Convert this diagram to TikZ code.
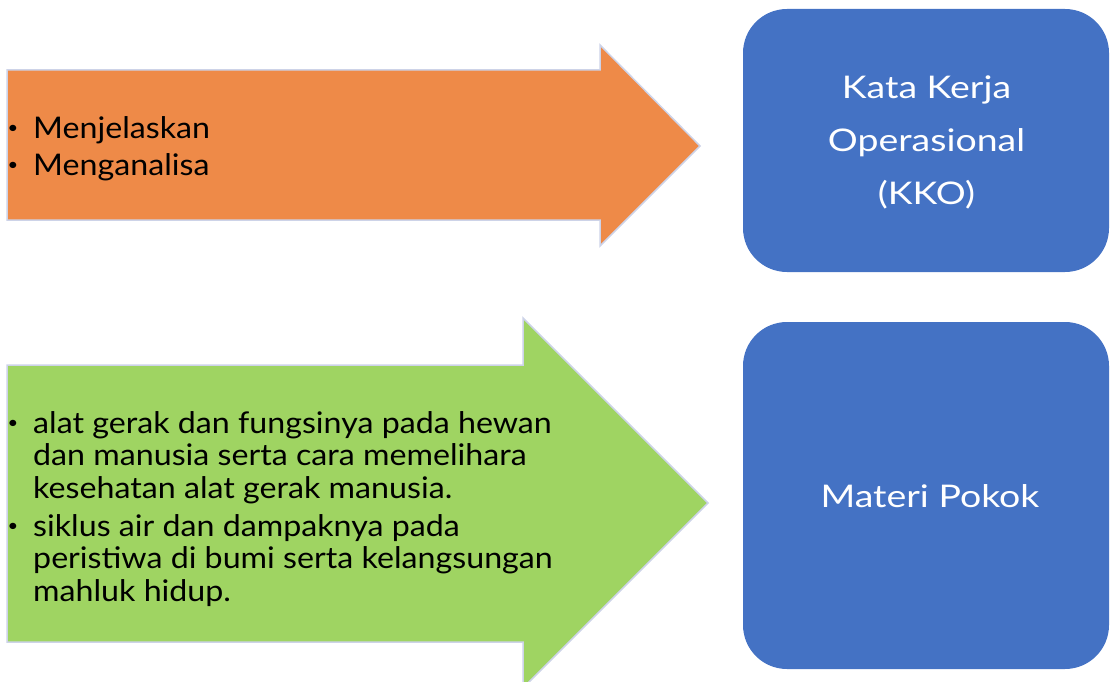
\documentclass[tikz,border=0pt]{standalone}
\usepackage{fontspec}
\setmainfont{Lato}
\newfontfamily\listfont{Lato}[FakeStretch=1.08]
\newfontfamily\boxfont{Lato}[FakeStretch=1.2]
\definecolor{orangefill}{HTML}{EE8A48}
\definecolor{greenfill}{HTML}{9FD462}
\definecolor{bluefill}{HTML}{4472C4}
\definecolor{edgeline}{HTML}{CDD3E8}
\begin{document}
\begin{tikzpicture}[x=1pt,y=-1pt,
  arrowshape/.style={draw=edgeline,line width=1.5pt,line join=miter},
  bluebox/.style={fill=bluefill,rounded corners=44pt},
  listtext/.style={anchor=base west,inner sep=0pt,align=left,font=\listfont\fontsize{29.8}{32.5}\selectfont},
  bulletmark/.style={anchor=center,inner sep=0pt,font=\listfont\fontsize{17}{17}\selectfont},
  boxtext/.style={anchor=base,text=white,align=center,inner sep=0pt,font=\boxfont\fontsize{31.2}{53}\selectfont}]
\useasboundingbox (0,0) rectangle (1110,682);
% orange arrow
\path[arrowshape,fill=orangefill] (7,70) -- (600,70) -- (600,45) -- (700,146) -- (600,246) -- (600,220) -- (7,220) -- cycle;
% green arrow
\path[arrowshape,fill=greenfill] (7,365) -- (523,365) -- (523,318) -- (708,503) -- (523,688) -- (523,642) -- (7,642) -- cycle;
% blue boxes
\path[bluebox] (743,9) rectangle (1109,272);
\path[bluebox] (743,322) rectangle (1109,669);
% base anchor of a multi-line node = baseline of its last line
\node[boxtext] (kko) at (926.5,204) {Kata Kerja\\Operasional\\(KKO)};
\node[boxtext] (mp) at (930,507) {Materi Pokok};
% orange list
\node[bulletmark] (b1) at (13,129) {•};
\node[listtext] (v1) at (33,138.3) {Menjelaskan};
\node[bulletmark] (b2) at (13,166) {•};
\node[listtext] (v2) at (33,175) {Menganalisa};
% green list
\node[bulletmark] (b3) at (13,424) {•};
\node[listtext] (t1) at (33,498) {alat gerak dan fungsinya pada hewan\\dan manusia serta cara memelihara\\kesehatan alat gerak manusia.};
\node[bulletmark] (b4) at (13,527) {•};
\node[listtext] (t2) at (33,601) {siklus air dan dampaknya pada\\peristiwa di bumi serta kelangsungan\\mahluk hidup.};
\end{tikzpicture}
\end{document}
